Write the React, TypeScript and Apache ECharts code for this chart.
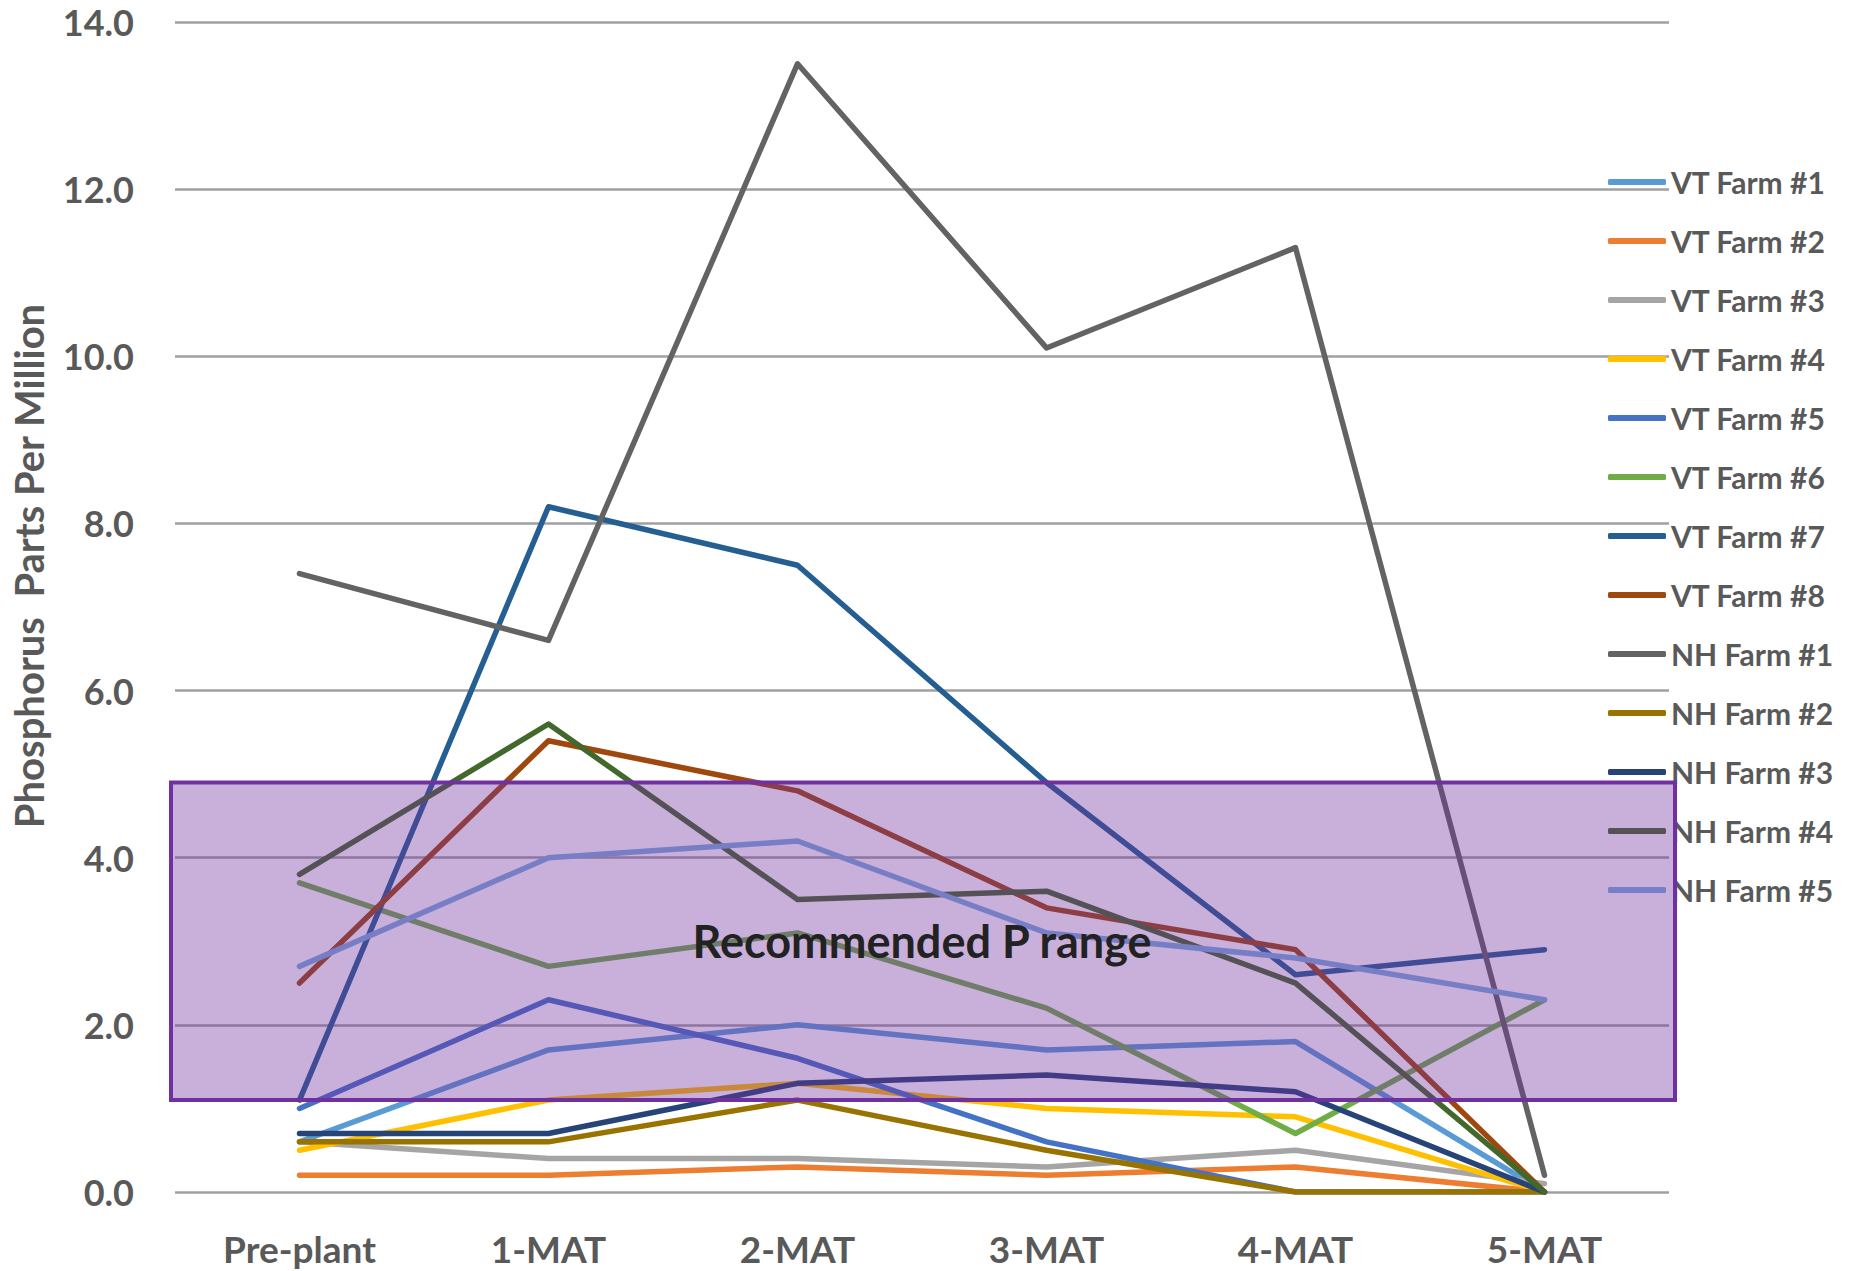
import React, { useEffect, useRef } from "react";
import * as echarts from "echarts";

// Sampling stages (x axis)
const stages = ["Pre-plant", "1-MAT", "2-MAT", "3-MAT", "4-MAT", "5-MAT"];

// Phosphorus readings (ppm) per farm
const vtFarm1 = [0.6, 1.7, 2.0, 1.7, 1.8, 0.0];
const vtFarm2 = [0.2, 0.2, 0.3, 0.2, 0.3, 0.0];
const vtFarm3 = [0.6, 0.4, 0.4, 0.3, 0.5, 0.1];
const vtFarm4 = [0.5, 1.1, 1.3, 1.0, 0.9, 0.0];
const vtFarm5 = [1.0, 2.3, 1.6, 0.6, 0.0, 0.0];
const vtFarm6 = [3.7, 2.7, 3.1, 2.2, 0.7, 2.3];
const vtFarm7 = [1.1, 8.2, 7.5, 4.9, 2.6, 2.9];
const vtFarm8 = [2.5, 5.4, 4.8, 3.4, 2.9, 0.0];
const nhFarm1 = [7.4, 6.6, 13.5, 10.1, 11.3, 0.2];
const nhFarm2 = [0.6, 0.6, 1.1, 0.5, 0.0, 0.0];
const nhFarm3 = [0.7, 0.7, 1.3, 1.4, 1.2, 0.0];
const nhFarm4 = [3.8, 5.6, 3.5, 3.6, 2.5, 0.0];
const nhFarm5 = [2.7, 4.0, 4.2, 3.1, 2.8, 2.3];

const seriesNames = [
  "VT Farm #1", "VT Farm #2", "VT Farm #3", "VT Farm #4", "VT Farm #5",
  "VT Farm #6", "VT Farm #7", "VT Farm #8", "NH Farm #1", "NH Farm #2",
  "NH Farm #3", "NH Farm #4", "NH Farm #5",
];
const seriesValues = [
  vtFarm1, vtFarm2, vtFarm3, vtFarm4, vtFarm5, vtFarm6, vtFarm7, vtFarm8,
  nhFarm1, nhFarm2, nhFarm3, nhFarm4, nhFarm5,
];
const seriesColors = [
  "#5B9BD5", "#ED7D31", "#A5A5A5", "#FFC000", "#4472C4", "#70AD47",
  "#255E91", "#9E480E", "#636363", "#997300", "#264478", "#43682B",
  "#7CAFDD",
];

// Y axis scale
const yMin = 0;
const yMax = 14;
const yStep = 2;

// Recommended phosphorus band (ppm)
const rangeLow = 1.1;
const rangeHigh = 4.9;
const rangeLabel = "Recommended P range";
const rangeLabelValue = 3.0;

const yTitle = "Phosphorus  Parts Per Million";

const W = 1849;
const H = 1271;
const GRID = { left: 175, right: 180, top: 22, bottom: 79 };
const FONT = "Lato, 'Open Sans', sans-serif";
const AXIS_GRAY = "#595959";

export default function App() {
  const ref = useRef<HTMLDivElement>(null);

  useEffect(() => {
    document.body.style.margin = "0";
    const el = ref.current;
    if (!el) return;
    const chart = echarts.init(el, null, { renderer: "svg" });

    const option: any = {
      animation: false,
      backgroundColor: "#ffffff",
      textStyle: { fontFamily: FONT },
      grid: { ...GRID, containLabel: false, outerBoundsMode: "none" },
      xAxis: {
        type: "category",
        data: stages,
        boundaryGap: true,
        axisLine: { show: false },
        axisTick: { show: false },
        axisLabel: {
          margin: 36,
          color: AXIS_GRAY,
          fontFamily: FONT,
          fontWeight: "bold",
          fontSize: 37,
          lineHeight: 40,
        },
        splitLine: { show: false },
      },
      yAxis: {
        type: "value",
        min: yMin,
        max: yMax,
        interval: yStep,
        axisLine: { show: false },
        axisTick: { show: false },
        axisLabel: {
          margin: 41,
          color: AXIS_GRAY,
          fontFamily: FONT,
          fontWeight: "bold",
          fontSize: 36,
          formatter: (v: number) => v.toFixed(1),
        },
        splitLine: { lineStyle: { color: "#A0A0A0", width: 2.5 } },
      },
      legend: {
        orient: "vertical",
        left: 1603,
        top: 162,
        itemWidth: 58,
        itemHeight: 6,
        itemGap: 29,
        icon: "roundRect",
        data: seriesNames,
        textStyle: {
          color: AXIS_GRAY,
          fontFamily: FONT,
          fontWeight: "bold",
          fontSize: 30,
          lineHeight: 30,
        },
      },
      series: seriesNames.map((name, i) => ({
        name,
        type: "line",
        data: seriesValues[i],
        showSymbol: false,
        symbol: "none",
        color: seriesColors[i],
        lineStyle: { width: 5.5, color: seriesColors[i], cap: "round", join: "round" },
        emphasis: { disabled: true },
      })),
    };
    chart.setOption(option);

    // Place the recommended-range overlay from the value scale
    const yTop = chart.convertToPixel({ yAxisIndex: 0 }, rangeHigh) as number;
    const yBot = chart.convertToPixel({ yAxisIndex: 0 }, rangeLow) as number;
    const xA = chart.convertToPixel({ xAxisIndex: 0 }, stages[2]) as number;
    const xB = chart.convertToPixel({ xAxisIndex: 0 }, stages[3]) as number;
    const yLab = chart.convertToPixel({ yAxisIndex: 0 }, rangeLabelValue) as number;
    const boxLeft = GRID.left - 4;
    const boxRight = W - GRID.right + 6;

    chart.setOption({
      graphic: [
        {
          type: "rect",
          z: 100,
          shape: { x: boxLeft, y: yTop, width: boxRight - boxLeft, height: yBot - yTop },
          style: { fill: "rgba(112,48,160,0.38)", stroke: "#7030A0", lineWidth: 4 },
          silent: true,
        },
        {
          type: "text",
          z: 101,
          x: (xA + xB) / 2,
          y: yLab,
          style: {
            text: rangeLabel,
            fill: "#222222",
            font: `bold 45px ${FONT}`,
            align: "center",
            verticalAlign: "middle",
          },
          silent: true,
        },
        {
          type: "text",
          z: 101,
          x: 29,
          y: 566,
          rotation: Math.PI / 2,
          style: {
            text: yTitle,
            fill: AXIS_GRAY,
            font: `bold 40px ${FONT}`,
            align: "center",
            verticalAlign: "middle",
          },
          silent: true,
        },
      ],
    });

    return () => chart.dispose();
  }, []);

  return <div ref={ref} style={{ width: W, height: H }} />;
}
